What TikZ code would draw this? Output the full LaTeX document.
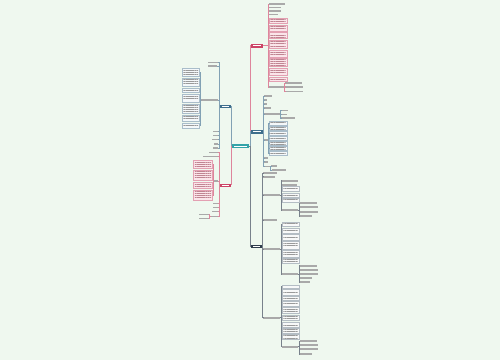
\documentclass[tikz,border=0pt]{standalone}
\usetikzlibrary{positioning,fit,patterns.meta}
\definecolor{bg}{HTML}{EFF8EF}
\definecolor{tea}{HTML}{33A3A8}
\definecolor{blu}{HTML}{3E6E8C}
\definecolor{red}{HTML}{CC4466}
\definecolor{drk}{HTML}{2F3D4C}
\definecolor{txt}{HTML}{9A9A9A}
\definecolor{rtxt}{HTML}{C08592}
\definecolor{pinkfill}{HTML}{FBE5EA}
\definecolor{pinkline}{HTML}{E3A0B2}
\definecolor{bluefill}{HTML}{F4F8FA}
\definecolor{blueline}{HTML}{A9BDCA}
\definecolor{drkfill}{HTML}{F8F9F9}
\definecolor{drkline}{HTML}{B4BDC4}

\begin{document}
\begin{tikzpicture}[x=0.02cm,y=-0.02cm,
    hub/.style={inner sep=0pt,outer sep=0pt,fill=#1,
      path picture={\draw[white,line width=0.5pt] ([xshift=1.2pt]path picture bounding box.west) -- ([xshift=-1.2pt]path picture bounding box.east);}},
    leaf/.style={fill=txt!85,inner sep=0pt,outer sep=0pt},
    para/.style={inner sep=0pt,outer sep=0pt,line width=0.3pt,
      path picture={\fill[pattern={Lines[distance=1.25pt,line width=0.4pt]},pattern color=#1] ([shift={(0.8pt,-0.6pt)}]path picture bounding box.north west) rectangle ([shift={(-0.8pt,0.6pt)}]path picture bounding box.south east);}},
    redbox/.style={para=rtxt,fill=pinkfill,draw=pinkline},
    bluebox/.style={para=txt,fill=bluefill,draw=blueline},
    drkbox/.style={para=txt,fill=drkfill,draw=drkline},
    bline/.style={draw=blu!65,line width=0.3pt},
    rline/.style={draw=red!65,line width=0.3pt},
    dline/.style={draw=drk!65,line width=0.3pt}]
  \fill[bg] (0,0) rectangle (500,360);

  % centre and main branches
  \node[hub=tea,fit={(232,144) (249,148)}] (root) {};
  \node[hub=blu,fit={(219.5,104.5) (231,107.5)}] (lb) {};
  \node[hub=red,fit={(219.5,183.5) (231,186.5)}] (lr) {};
  \node[hub=red,fit={(251,44) (263,47.5)}] (rr) {};
  \node[hub=blu,fit={(251,130) (263,133.5)}] (rb) {};
  \node[hub=drk,fit={(251,244.5) (262,248)}] (rd) {};
  \draw[bline] (root.west) -| (lb.east);
  \draw[rline] (root.west) -| (lr.east);
  \draw[rline] (root.east) -- ++(1,0) |- (rr.west);
  \draw[bline] (root.east) -- ++(1,0) |- (rb.west);
  \draw[dline] (root.east) -- ++(1,0) |- (rd.west);

  % left, blue
  \foreach \n/\a/\b/\y in {lba/208/218.3/62.5, lbb/208/217.3/66, lbp/201/218.3/100, lbc/213/218.3/131.5,
      lbd/213/218.3/135.5, lbe/212/218.3/139.5, lbf/214/218.3/144, lbg/213/218.3/148}{
    \node[leaf,fit={(\a,\y-0.6) (\b,\y+0.6)}] (\n) {};
    \draw[bline] (lb.west) -- ++(-0.6,0) |- (\n.east);
  }
  \foreach \t/\b [count=\i] in {68/76, 78/86, 88/92.5, 94/102, 104/113, 115/121, 123/128}{
    \node[bluebox,fit={(182,\t) (199.5,\b)}] (lbp\i) {};
    \draw[bline] (lbp.west) -- ++(-0.7,0) |- (lbp\i.east);
  }

  % left, red
  \foreach \n/\a/\b/\y in {lra/209/218.3/152.5, lrb/203/218.3/156.5, lrp/213.3/218.3/181, lrc/213.3/218.3/203.5,
      lrd/213.3/218.3/207.5, lre/211.5/218.3/211.5, lrf/210/218.3/216.5}{
    \node[leaf,fit={(\a,\y-0.6) (\b,\y+0.6)}] (\n) {};
    \draw[rline] (lr.west) -- ++(-0.6,0) |- (\n.east);
  }
  \foreach \t/\b [count=\i] in {160/168.5, 170/180.5, 182.5/188.5, 190.5/200}{
    \node[redbox,fit={(193.5,\t) (212.5,\b)}] (lrp\i) {};
    \draw[rline] (lrp.west) -- ++(-0.4,0) |- (lrp\i.east);
  }
  \foreach \n/\y in {lrfa/214.5, lrfb/218.5}{
    \node[leaf,fit={(198.5,\y-0.6) (209.3,\y+0.6)}] (\n) {};
    \draw[rline] (lrf.west) -- ++(-0.35,0) |- (\n.east);
  }

  % right, red
  \foreach \n/\a/\b/\y in {rra/269/285/4, rrb/269/281/7.5, rrc/269/281/11, rrd/269/278/14.5, rrn/269/284/87}{
    \node[leaf,fit={(\a,\y-0.6) (\b,\y+0.6)}] (\n) {};
    \draw[rline] (rr.east) -- ++(5.3,0) |- (\n.west);
  }
  \foreach \t/\b [count=\i] in {18/23.5, 25/31, 32.5/38.5, 40/48, 50/57, 58.5/66.5, 68/75, 77/81.5}{
    \node[redbox,fit={(269,\t) (287,\b)}] (rrp\i) {};
    \draw[rline] (rr.east) -- ++(5.3,0) |- (rrp\i.west);
  }
  \foreach \n/\b/\y in {rrna/302/83, rrnb/303/87.3, rrnc/303/91.5}{
    \node[leaf,fit={(285,\y-0.6) (\b,\y+0.6)}] (\n) {};
    \draw[rline] (rrn.east) -- ++(0.5,0) |- (\n.west);
  }

  % right, blue
  \foreach \n/\a/\b/\y in {rba/264/272/96, rbb/264/267/100, rbc/264/267/104, rbd/264/271/108, rbm/264/280/114,
      rbp/264/268/140, rbe/264/268/158.3, rbf/264/268/161.7, rbq/264/270/166.5}{
    \node[leaf,fit={(\a,\y-0.6) (\b,\y+0.6)}] (\n) {};
    \draw[bline] (rb.east) -- ++(0.5,0) |- (\n.west);
  }
  \foreach \n/\b/\y in {rbma/288/110.5, rbmb/287/114.5, rbmc/295/118}{
    \node[leaf,fit={(281,\y-0.6) (\b,\y+0.6)}] (\n) {};
    \draw[bline] (rbm.east) -- ++(0.5,0) |- (\n.west);
  }
  \foreach \t/\b [count=\i] in {121.5/125.5, 126.5/130.5, 131.5/135.5, 136.5/140.5, 141.5/145.5, 146.5/150.5, 151.5/155.5}{
    \node[bluebox,fit={(269,\t) (287,\b)}] (rbp\i) {};
    \draw[bline] (rbp.east) -- ++(0.5,0) |- (rbp\i.west);
  }
  \foreach \n/\a/\b/\y in {rbqa/271/277/166, rbqb/272/286/170}{
    \node[leaf,fit={(\a,\y-0.6) (\b,\y+0.6)}] (\n) {};
    \draw[bline] (rbq.east) -- ++(0.5,0) |- (\n.west);
  }

  % right, dark
  \foreach \n/\b/\y in {rda/277/173.3, rdb/275/176.7, rdm/280/195, rdc/277/220, rdn/280/249, rdo/280/317.7}{
    \node[leaf,fit={(263,\y-0.6) (\b,\y+0.6)}] (\n) {};
    \draw[dline] (rd.east) -- ++(0.5,0) |- (\n.west);
  }
  \foreach \n/\b/\y in {rdma/298/180.7, rdmb/297/185, rdmx/298/210}{
    \node[leaf,fit={(282,\y-0.6) (\b,\y+0.6)}] (\n) {};
    \draw[dline] (rdm.east) -- ++(1,0) |- (\n.west);
  }
  \foreach \t/\b [count=\i] in {186.7/191.7, 193.3/197.3, 198.5/202}{
    \node[drkbox,fit={(282,\t) (299,\b)}] (rdm\i) {};
    \draw[dline] (rdm.east) -- ++(1,0) |- (rdm\i.west);
  }
  \foreach \n/\b/\y in {rdmxa/316.7/203.3, rdmxb/317.7/207.3, rdmxc/317.7/211.7, rdmxd/311.7/216}{
    \node[leaf,fit={(300,\y-0.6) (\b,\y+0.6)}] (\n) {};
    \draw[dline] (rdmx.east) -- ++(1.2,0) |- (\n.west);
  }
  \foreach \t/\b [count=\i] in {222.5/226.5, 228/233, 234.5/240, 241.5/249, 250.5/257, 258.5/263.5}{
    \node[drkbox,fit={(282,\t) (299,\b)}] (rdn\i) {};
    \draw[dline] (rdn.east) -- ++(1,0) |- (rdn\i.west);
  }
  \node[leaf,fit={(282,273.4) (298,274.6)}] (rdnx) {};
  \draw[dline] (rdn.east) -- ++(1,0) |- (rdnx.west);
  \foreach \n/\b/\y in {rdnxa/316.7/265.7, rdnxb/317.7/270, rdnxc/317.7/274, rdnxd/311.7/278.3, rdnxe/310/282.3}{
    \node[leaf,fit={(300,\y-0.6) (\b,\y+0.6)}] (\n) {};
    \draw[dline] (rdnx.east) -- ++(1.2,0) |- (\n.west);
  }
  \foreach \t/\b [count=\i] in {285/288, 289.5/295, 296.5/300, 301.5/306, 307.5/313.5, 315/320.5, 322/327, 328.5/333, 334.5/339.5}{
    \node[drkbox,fit={(282,\t) (299,\b)}] (rdo\i) {};
    \draw[dline] (rdo.east) -- ++(1,0) |- (rdo\i.west);
  }
  \node[leaf,fit={(282,346.1) (298,347.3)}] (rdox) {};
  \draw[dline] (rdo.east) -- ++(1,0) |- (rdox.west);
  \foreach \n/\b/\y in {rdoxa/316.7/341, rdoxb/317.7/345.3, rdoxc/317.7/349.3, rdoxd/311.7/354}{
    \node[leaf,fit={(300,\y-0.6) (\b,\y+0.6)}] (\n) {};
    \draw[dline] (rdox.east) -- ++(1.2,0) |- (\n.west);
  }
\end{tikzpicture}
\end{document}
